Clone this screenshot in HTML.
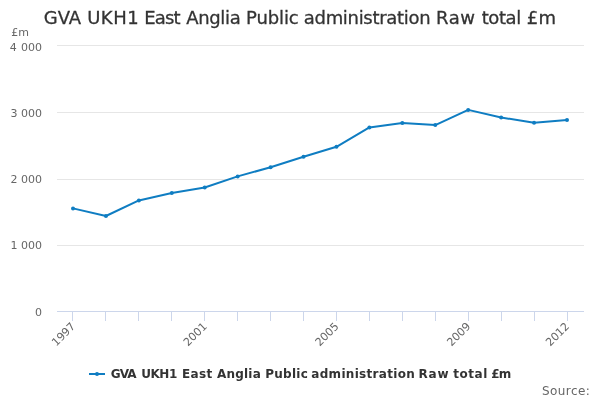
<!DOCTYPE html>
<html><head><meta charset="utf-8"><style>
html,body{margin:0;padding:0;background:#fff;}
svg{display:block;font-family:"DejaVu Sans","Liberation Sans",sans-serif;}
</style></head><body>
<svg width="600" height="400" viewBox="0 0 600 400">
<rect x="0" y="0" width="600" height="400" fill="#FFFFFF"/>
<path d="M 57 45.5 L 584 45.5" stroke="#E6E6E6" stroke-width="1" fill="none"/><path d="M 57 112.5 L 584 112.5" stroke="#E6E6E6" stroke-width="1" fill="none"/><path d="M 57 179.5 L 584 179.5" stroke="#E6E6E6" stroke-width="1" fill="none"/><path d="M 57 245.5 L 584 245.5" stroke="#E6E6E6" stroke-width="1" fill="none"/>
<path d="M 57 311.5 L 584 311.5" stroke="#CCD6EB" stroke-width="1" fill="none"/>
<path d="M 72.5 311 L 72.5 321" stroke="#CCD6EB" stroke-width="1" fill="none"/><path d="M 105.5 311 L 105.5 321" stroke="#CCD6EB" stroke-width="1" fill="none"/><path d="M 138.5 311 L 138.5 321" stroke="#CCD6EB" stroke-width="1" fill="none"/><path d="M 171.5 311 L 171.5 321" stroke="#CCD6EB" stroke-width="1" fill="none"/><path d="M 204.5 311 L 204.5 321" stroke="#CCD6EB" stroke-width="1" fill="none"/><path d="M 237.5 311 L 237.5 321" stroke="#CCD6EB" stroke-width="1" fill="none"/><path d="M 270.5 311 L 270.5 321" stroke="#CCD6EB" stroke-width="1" fill="none"/><path d="M 303.5 311 L 303.5 321" stroke="#CCD6EB" stroke-width="1" fill="none"/><path d="M 336.5 311 L 336.5 321" stroke="#CCD6EB" stroke-width="1" fill="none"/><path d="M 369.5 311 L 369.5 321" stroke="#CCD6EB" stroke-width="1" fill="none"/><path d="M 402.5 311 L 402.5 321" stroke="#CCD6EB" stroke-width="1" fill="none"/><path d="M 435.5 311 L 435.5 321" stroke="#CCD6EB" stroke-width="1" fill="none"/><path d="M 468.5 311 L 468.5 321" stroke="#CCD6EB" stroke-width="1" fill="none"/><path d="M 501.5 311 L 501.5 321" stroke="#CCD6EB" stroke-width="1" fill="none"/><path d="M 534.5 311 L 534.5 321" stroke="#CCD6EB" stroke-width="1" fill="none"/><path d="M 567.5 311 L 567.5 321" stroke="#CCD6EB" stroke-width="1" fill="none"/>
<path d="M 73.00 208.4 L 105.93 216 L 138.87 200.4 L 171.80 193 L 204.73 187.5 L 237.67 176.4 L 270.60 167.2 L 303.53 156.8 L 336.47 146.8 L 369.40 127.4 L 402.33 122.9 L 435.27 125.1 L 468.20 109.9 L 501.13 117.5 L 534.07 122.8 L 567.00 120" stroke="#0F7DC2" stroke-width="2" fill="none" stroke-linejoin="round" stroke-linecap="round"/>
<circle cx="73.00" cy="208.4" r="2" fill="#0F7DC2"/><circle cx="105.93" cy="216" r="2" fill="#0F7DC2"/><circle cx="138.87" cy="200.4" r="2" fill="#0F7DC2"/><circle cx="171.80" cy="193" r="2" fill="#0F7DC2"/><circle cx="204.73" cy="187.5" r="2" fill="#0F7DC2"/><circle cx="237.67" cy="176.4" r="2" fill="#0F7DC2"/><circle cx="270.60" cy="167.2" r="2" fill="#0F7DC2"/><circle cx="303.53" cy="156.8" r="2" fill="#0F7DC2"/><circle cx="336.47" cy="146.8" r="2" fill="#0F7DC2"/><circle cx="369.40" cy="127.4" r="2" fill="#0F7DC2"/><circle cx="402.33" cy="122.9" r="2" fill="#0F7DC2"/><circle cx="435.27" cy="125.1" r="2" fill="#0F7DC2"/><circle cx="468.20" cy="109.9" r="2" fill="#0F7DC2"/><circle cx="501.13" cy="117.5" r="2" fill="#0F7DC2"/><circle cx="534.07" cy="122.8" r="2" fill="#0F7DC2"/><circle cx="567.00" cy="120" r="2" fill="#0F7DC2"/>
<text font-size="18px" fill="#333333" stroke="#333333" stroke-width="0.3"><tspan x="43.86" y="24" style="letter-spacing:-0.100px">GVA</tspan> <tspan x="87.17" y="24" style="letter-spacing:0.520px">UKH1</tspan> <tspan x="144.18" y="24" style="letter-spacing:-0.850px">East</tspan> <tspan x="186.17" y="24" style="letter-spacing:-0.325px">Anglia</tspan> <tspan x="245.97" y="24" style="letter-spacing:-0.106px">Public</tspan> <tspan x="303.80" y="24" style="letter-spacing:-0.305px">administration</tspan> <tspan x="435.97" y="24" style="letter-spacing:0.547px">Raw</tspan> <tspan x="481.68" y="24" style="letter-spacing:-0.415px">total</tspan> <tspan x="526.85" y="24" style="letter-spacing:0.268px">£m</tspan></text>
<text x="11.3" y="36" font-size="11px" fill="#666666">£m</text>
<g font-size="11px" fill="#666666"><text x="42" y="50.5" text-anchor="end" word-spacing="0.8">4 000</text><text x="42" y="117" text-anchor="end">3 000</text><text x="42" y="183" text-anchor="end">2 000</text><text x="42" y="249" text-anchor="end">1 000</text><text x="42" y="316" text-anchor="end">0</text></g>
<g font-size="11px" fill="#666666"><text x="76.00" y="327" text-anchor="end" transform="rotate(-45 76.00 327)">1997</text><text x="207.73" y="327" text-anchor="end" transform="rotate(-45 207.73 327)">2001</text><text x="339.47" y="327" text-anchor="end" transform="rotate(-45 339.47 327)">2005</text><text x="471.20" y="327" text-anchor="end" transform="rotate(-45 471.20 327)">2009</text><text x="570.00" y="327" text-anchor="end" transform="rotate(-45 570.00 327)">2012</text></g>
<path d="M 89 374 L 105 374" stroke="#0F7DC2" stroke-width="2" fill="none"/>
<circle cx="97" cy="374" r="2" fill="#0F7DC2"/>
<text font-size="12px" font-weight="bold" fill="#333333"><tspan x="110.66" y="378" style="letter-spacing:-0.806px">GVA</tspan> <tspan x="141.19" y="378" style="letter-spacing:-0.439px">UKH1</tspan> <tspan x="181.99" y="378" style="letter-spacing:0.318px">East</tspan> <tspan x="217.03" y="378" style="letter-spacing:0.196px">Anglia</tspan> <tspan x="265.19" y="378" style="letter-spacing:0.268px">Public</tspan> <tspan x="311.27" y="378" style="letter-spacing:0.314px">administration</tspan> <tspan x="418.59" y="378" style="letter-spacing:0.736px">Raw</tspan> <tspan x="453.31" y="378" style="letter-spacing:0.510px">total</tspan> <tspan x="491.24" y="378" style="letter-spacing:-0.800px">£m</tspan></text>
<text font-size="12px" fill="#666666"><tspan x="541.89" y="395" style="letter-spacing:0.450px">Source:</tspan></text>
</svg>
</body></html>
